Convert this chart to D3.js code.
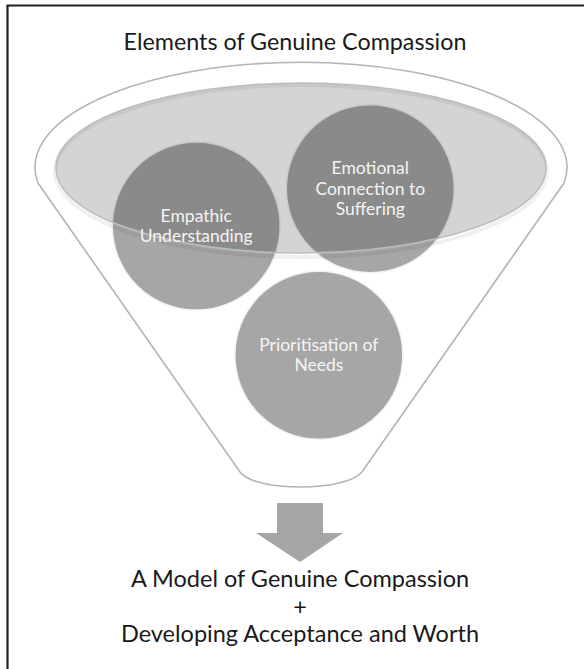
<!DOCTYPE html>
<html>
<head>
<meta charset="utf-8">
<script src="https://cdn.jsdelivr.net/npm/d3@7"></script>
<style>
  body { margin: 0; background: #fff; }
  svg { display: block; }
  text { font-family: Lato, "Open Sans", sans-serif; }
</style>
</head>
<body>
<div id="chart"></div>
<script>
// diagram content
var title = "Elements of Genuine Compassion";
var elementNames = ["Empathic Understanding", "Emotional Connection to Suffering", "Prioritisation of Needs"];
var elementLines = [["Empathic", "Understanding"], ["Emotional", "Connection to", "Suffering"], ["Prioritisation of", "Needs"]];
// element centres, in percent of the figure width / height
var elementX = [33.6, 63.4, 54.6];
var elementY = [33.8, 28.2, 53.1];
var outcomeLines = ["A Model of Genuine Compassion", "+", "Developing Acceptance and Worth"];

var svgWidth = 584;
var svgHeight = 669;

var svg = d3.select("#chart")
    .append("svg")
    .attr("width", svgWidth)
    .attr("height", svgHeight);

// percent -> pixels
var xScale = d3.scaleLinear().domain([0, 100]).range([0, svgWidth]);
var yScale = d3.scaleLinear().domain([0, 100]).range([0, svgHeight]);

// frame (only top and left edges are in view)
svg.append("path")
    .attr("d", "M7.5,669 L7.5,5.5 L584,5.5")
    .attr("fill", "none")
    .attr("stroke", "#231f20")
    .attr("stroke-width", 2.2);

// title
svg.append("text")
    .attr("x", 295)
    .attr("y", 50)
    .attr("text-anchor", "middle")
    .attr("font-size", 23.3)
    .attr("fill", "#1a1a1a")
    .text(title);

// funnel outline
var cx = 301, topCy = 168, topRx = 266, topRy = 105;
var funnel = "M38,183 A" + topRx + "," + topRy + " 0 1,1 564,183" +
    " L362,472 C345,492 255,492 240,472 Z";
svg.append("path")
    .attr("d", funnel)
    .attr("fill", "#fff")
    .attr("stroke", "#b4b4b4")
    .attr("stroke-width", 1.6);

// circles
var r = 84;
var nodes = elementNames.map(function(n, i) {
    return {name: n, lines: elementLines[i], x: xScale(elementX[i]), y: yScale(elementY[i])};
});

svg.selectAll("circle.element")
    .data(nodes)
    .enter()
    .append("circle")
    .attr("class", "element")
    .attr("cx", d => d.x)
    .attr("cy", d => d.y)
    .attr("r", r)
    .attr("fill", "#a6a6a6")
    .attr("stroke", "#f2f2f2")
    .attr("stroke-width", 1.5);

// soft shadow under the ellipse
svg.append("ellipse")
    .attr("cx", cx)
    .attr("cy", topCy + 3)
    .attr("rx", 246)
    .attr("ry", 86)
    .attr("fill", "none")
    .attr("stroke", "#000")
    .attr("stroke-opacity", 0.06)
    .attr("stroke-width", 4);

// translucent ellipse on top
svg.append("ellipse")
    .attr("cx", cx)
    .attr("cy", topCy)
    .attr("rx", 245)
    .attr("ry", 85)
    .attr("fill", "#000")
    .attr("fill-opacity", 0.17)
    .attr("stroke", "#bdbdbd")
    .attr("stroke-width", 1.6);

// circle labels
var labels = svg.selectAll("text.label")
    .data(nodes)
    .enter()
    .append("text")
    .attr("class", "label")
    .attr("text-anchor", "middle")
    .attr("font-size", 17.5)
    .attr("fill", "#f4f4f4");

labels.each(function(d) {
    var t = d3.select(this);
    var n = d.lines.length;
    d.lines.forEach(function(line, k) {
        t.append("tspan")
            .attr("x", d.x)
            .attr("y", d.y + (k - (n - 1) / 2) * 20.5 + 6)
            .text(line);
    });
});

// arrow
var arrowPts = [[277, 503], [323, 503], [323, 533], [343, 533], [300, 562], [256, 533], [277, 533]];
svg.append("path")
    .attr("d", d3.line()(arrowPts) + "Z")
    .attr("fill", "#a6a6a6");

// outcome text
svg.selectAll("text.outcome")
    .data(outcomeLines)
    .enter()
    .append("text")
    .attr("class", "outcome")
    .attr("x", 300)
    .attr("y", (d, i) => 587 + i * 27.5)
    .attr("text-anchor", "middle")
    .attr("font-size", 23.5)
    .attr("fill", "#1a1a1a")
    .text(d => d);
</script>
</body>
</html>
